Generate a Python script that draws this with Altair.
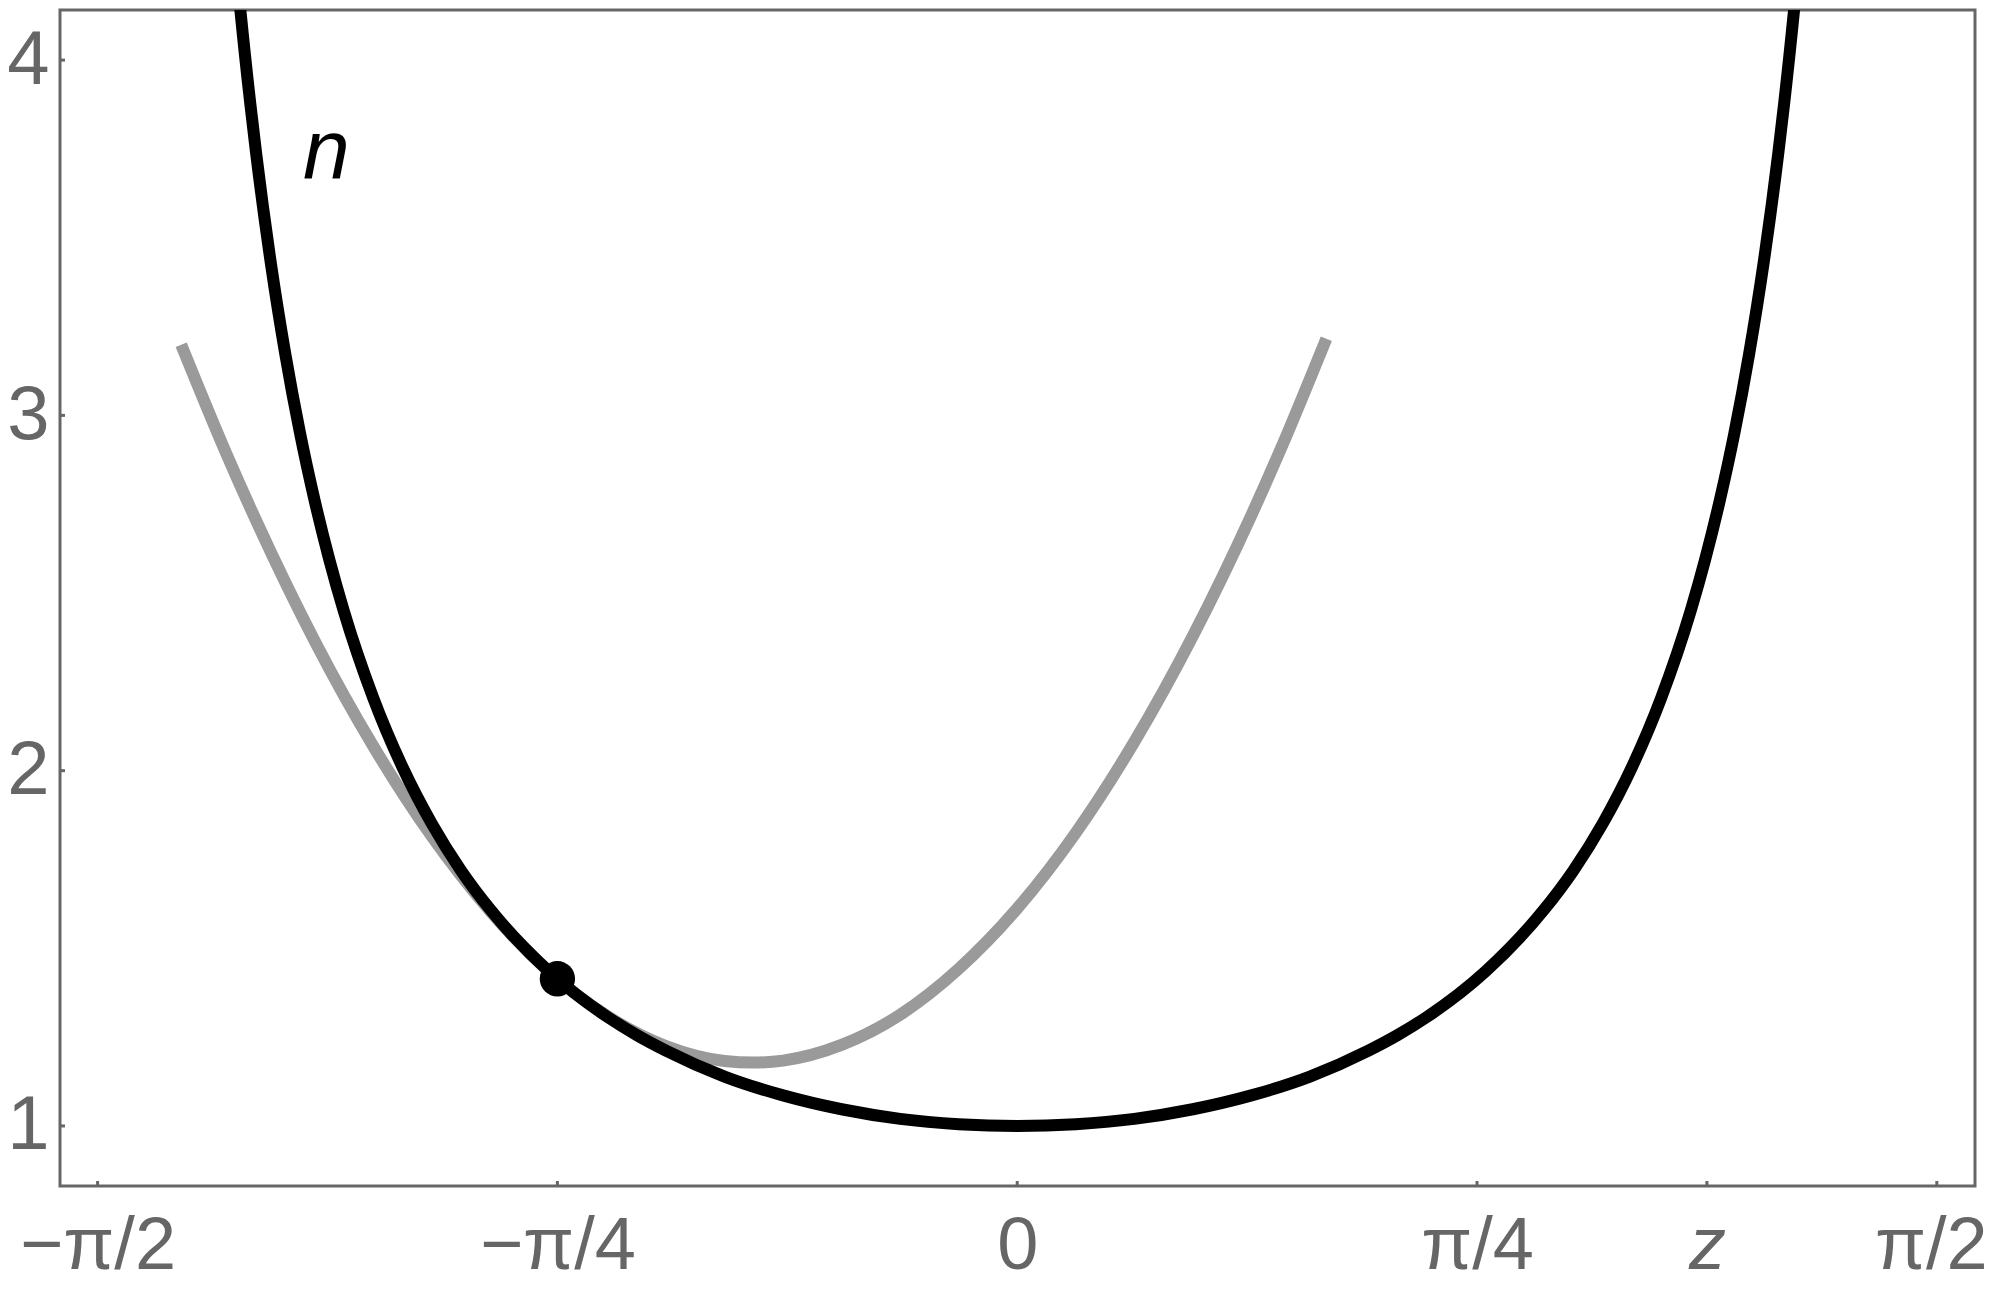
import altair as alt
import pandas as pd

# --- data ---
# black curve n(z)
z_black = [-1.36, -1.33, -1.31, -1.30, -1.275, -1.25, -1.225, -1.20, -1.175, -1.15, -1.10, -1.05,
           -1.00, -0.95, -0.90, -0.80, -0.70, -0.65, -0.60, -0.50, -0.40, -0.30, -0.20, -0.10,
           0.00, 0.10, 0.20, 0.30, 0.40, 0.50, 0.60, 0.65, 0.70, 0.80, 0.90, 0.95, 1.00, 1.05,
           1.10, 1.15, 1.175, 1.20, 1.225, 1.25, 1.275, 1.30, 1.31, 1.33, 1.36]
n_black = [4.779, 4.193, 3.878, 3.738, 3.430, 3.171, 2.950, 2.760, 2.594, 2.448, 2.205, 2.010,
           1.851, 1.719, 1.609, 1.435, 1.307, 1.256, 1.212, 1.139, 1.086, 1.047, 1.020, 1.005,
           1.000, 1.005, 1.020, 1.047, 1.086, 1.139, 1.212, 1.256, 1.307, 1.435, 1.609, 1.719,
           1.851, 2.010, 2.205, 2.448, 2.594, 2.760, 2.950, 3.171, 3.430, 3.738, 3.878, 4.193, 4.779]

# gray curve
z_gray = [-1.428, -1.35, -1.30, -1.20, -1.10, -1.00, -0.90, -0.80, -0.70, -0.60, -0.50, -0.45,
          -0.40, -0.30, -0.20, -0.10, 0.00, 0.10, 0.20, 0.30, 0.40, 0.45, 0.528]
n_gray = [3.199, 2.889, 2.704, 2.365, 2.069, 1.815, 1.604, 1.435, 1.309, 1.225, 1.183, 1.1785,
          1.184, 1.228, 1.313, 1.442, 1.612, 1.825, 2.081, 2.379, 2.719, 2.905, 3.216]

# marked point
z_point = [-0.7854]
n_point = [1.4142]

# in-plot label
label_z = [-1.18]
label_n = [3.669]
label_text = ["n"]

# axis ticks
x_tick_values = [-1.5708, -0.7854, 0.0, 0.7854, 1.1781, 1.5708]
x_tick_labels = ["\u2212\u03c0/2", "\u2212\u03c0/4", "0", "\u03c0/4", "z", "\u03c0/2"]
y_tick_values = [1, 2, 3, 4]

# --- layout ---
W, H = 1915, 1176
X_DOMAIN = [-1.635, 1.636]
Y_DOMAIN = [0.831, 4.141]
AXIS_GRAY = "#666666"
FONT = "Liberation Sans"

expr = "''"
for v, lab in reversed(list(zip(x_tick_values, x_tick_labels))):
    expr = f"abs(datum.value - ({v})) < 0.01 ? '{lab}' : ({expr})"

x_axis = alt.Axis(
    values=x_tick_values, labelExpr=expr, title=None, domain=False, ticks=False,
    tickSize=0, grid=False, labelFont=FONT, labelFontSize=74, labelColor=AXIS_GRAY,
    labelPadding=24, labelOverlap=False, labelFlush=False,
    labelFontStyle={"condition": {"test": "abs(datum.value - 1.1781) < 0.01", "value": "italic"},
                    "value": "normal"},
    labelOffset={"condition": {"test": "datum.value > 1.5", "value": -6}, "value": 0},
)
y_axis = alt.Axis(
    values=y_tick_values, format="d", title=None, domain=False, ticks=False, tickSize=0,
    grid=False, labelFont=FONT, labelFontSize=76, labelColor=AXIS_GRAY, labelPadding=11,
    labelOverlap=False, labelFlush=False,
)

xs = alt.Scale(domain=X_DOMAIN, nice=False, zero=False)
ys = alt.Scale(domain=Y_DOMAIN, nice=False, zero=False)

def X():
    return alt.X("z:Q", scale=xs, axis=x_axis)

def Y():
    return alt.Y("n:Q", scale=ys, axis=y_axis)

black_df = pd.DataFrame({"z": z_black, "n": n_black, "o": list(range(len(z_black)))})
gray_df = pd.DataFrame({"z": z_gray, "n": n_gray, "o": list(range(len(z_gray)))})
point_df = pd.DataFrame({"z": z_point, "n": n_point})
label_df = pd.DataFrame({"z": label_z, "n": label_n, "t": label_text})
xt_df = pd.DataFrame({"z": x_tick_values})
yt_df = pd.DataFrame({"n": y_tick_values})

gray = alt.Chart(gray_df).mark_line(color="#9a9a9a", strokeWidth=12, interpolate="monotone",
                                    clip=True).encode(x=X(), y=Y(), order="o:Q")
black = alt.Chart(black_df).mark_line(color="black", strokeWidth=12, interpolate="monotone",
                                      clip=True).encode(x=X(), y=Y(), order="o:Q")
point = alt.Chart(point_df).mark_circle(color="black", opacity=1, size=1250).encode(x=X(), y=Y())
label = alt.Chart(label_df).mark_text(font=FONT, fontSize=84, fontStyle="italic", color="black",
                                      align="center", baseline="alphabetic").encode(
    x=X(), y=Y(), text="t:N")
xticks = alt.Chart(xt_df).mark_rule(color=AXIS_GRAY, strokeWidth=3).encode(
    x=X(), y=alt.value(H), y2=alt.value(H - 5))
yticks = alt.Chart(yt_df).mark_rule(color=AXIS_GRAY, strokeWidth=3).encode(
    y=Y(), x=alt.value(0), x2=alt.value(5))

chart = alt.layer(gray, black, point, label, xticks, yticks).properties(
    width=W, height=H,
    autosize=alt.AutoSizeParams(type="none"),
    padding={"left": 52, "top": 2, "right": 17, "bottom": 99},
    background="white",
).configure_view(stroke=AXIS_GRAY, strokeWidth=3)

chart.save("out.html", embed_options={"renderer": "svg", "actions": False})
